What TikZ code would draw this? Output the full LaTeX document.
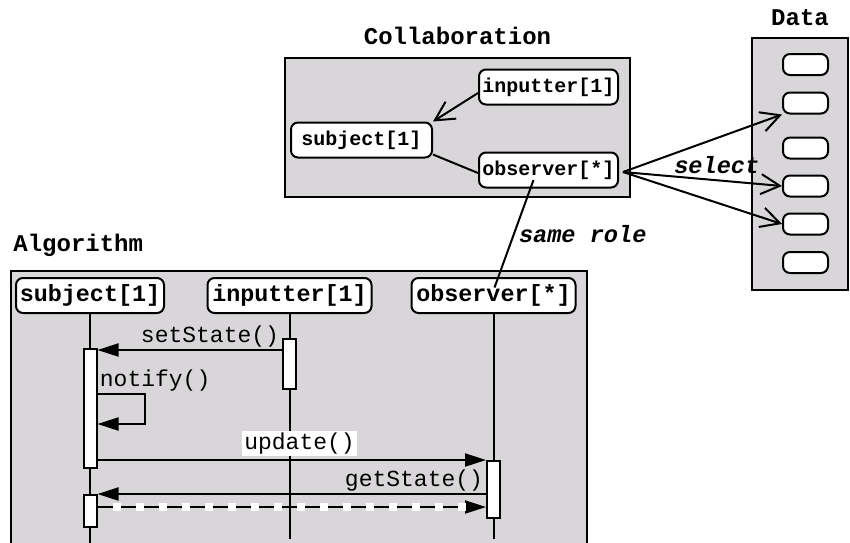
\documentclass[tikz,border=0pt]{standalone}
\usepackage{fontspec}
\usepackage{tikz}
\usetikzlibrary{arrows.meta,positioning}
\newfontfamily\codefont{Liberation Mono}
\definecolor{panelgray}{RGB}{216,214,217}

\tikzset{
  panel/.style={draw, fill=panelgray, line width=1pt, inner sep=0pt},
  title/.style={font=\codefont\bfseries\fontsize{12}{14}\selectfont, inner sep=0pt},
  role/.style={draw, fill=white, rounded corners=3.5pt, line width=1pt, inner sep=0pt,
    font=\codefont\bfseries\fontsize{10}{12}\selectfont, minimum width=69.5pt, minimum height=17.5pt},
  head/.style={role, font=\codefont\bfseries\fontsize{11.7}{14}\selectfont},
  slot/.style={draw, fill=white, rounded corners=3.5pt, line width=1pt, minimum width=22.5pt,
    minimum height=10.5pt, inner sep=0pt},
  bar/.style={draw, fill=white, line width=1pt, minimum width=6.5pt, inner sep=0pt},
  lifeline/.style={line width=1pt},
  msg/.style={line width=1pt, -{Triangle[length=10.5pt,width=6.5pt]}},
  gap/.style={white, line width=4pt, dash pattern=on 4pt off 7.5pt, shorten <=7.5pt, shorten >=8.5pt},
  call/.style={font=\codefont\fontsize{11.5}{13}\selectfont, inner sep=1pt},
  link/.style={line width=1pt},
  nav/.style={line width=1pt, -{Straight Barb[length=9.5pt,width=10pt]}},
  note/.style={font=\codefont\bfseries\itshape\fontsize{11.8}{14}\selectfont, inner sep=1pt}
}

\begin{document}
\begin{tikzpicture}[x=0.5pt, y=-0.5pt]
  \useasboundingbox (0,0) rectangle (850,542);
  % panels
  \node[panel, minimum width=172.5pt, minimum height=69.5pt] (collab) at (457.5,127.5) {};
  \node[panel, minimum width=48pt, minimum height=126pt] (data) at (800,164) {};
  \node[panel, minimum width=288pt, minimum height=137.5pt, anchor=north west] (alg) at (10,270) {};
  \node[title, above=6pt of collab.north] (collabtitle) {Collaboration};
  \node[title, above=5.5pt of data.north] (datatitle) {Data};
  \node[title, above right=6.5pt and 1.5pt of alg.north west] (algtitle) {Algorithm};

  % collaboration
  \node[role] (cinput) at (548.5,87) {inputter[1]};
  \node[role, minimum width=70.5pt] (csubj) at (361.5,140) {subject[1]};
  \node[role] (cobs) at (548.5,170) {observer[*]};
  \draw[nav] ([yshift=-3pt]cinput.west) -- (csubj.north east);
  \draw[link] ([yshift=2pt]csubj.south east) -- ([yshift=-1.5pt]cobs.west);

  % data
  \foreach \i/\y in {1/64.5,2/103,3/148,4/186,5/224,6/262.5}
    \node[slot] (d\i) at (805.5,\y) {};
  \draw[nav] ([shift={(2pt,-1pt)}]cobs.east) -- (d2.south west);
  \draw[nav] ([shift={(2pt,-1pt)}]cobs.east) -- node[note, pos=0.59, above=2pt] (sel) {select} (d4.west);
  \draw[nav] ([shift={(2pt,-1pt)}]cobs.east) -- (d5.west);

  % algorithm
  \node[head, minimum width=74pt] (asubj) at (90,295.5) {subject[1]};
  \node[head, minimum width=82pt] (ainput) at (289.5,295.5) {inputter[1]};
  \node[head, minimum width=82pt] (aobs) at (493.5,295.5) {observer[*]};
  \draw[link] ([shift={(-7.5pt,-5pt)}]cobs.center) -- node[note, right=1pt] (same) {same role}
    ([shift={(0.5pt,4pt)}]aobs.center);

  \draw[lifeline] (asubj.south) -- ++(0,229);
  \draw[lifeline] (ainput.south) -- ++(0,225);
  \draw[lifeline] (aobs.south) -- ++(0,225);

  \node[bar, minimum height=25pt] (bin) at (ainput.south |- 0,364) {};
  \node[bar, minimum height=59.5pt] (bs1) at (asubj.south |- 0,408.5) {};
  \node[bar, minimum height=16pt] (bs2) at (asubj.south |- 0,511) {};
  \node[bar, minimum height=28.5pt] (bo) at (aobs.south |- 0,489.5) {};

  \draw[msg] (bin.west |- 0,350) -- node[call, pos=0, above left] (set) {setState()} (bs1.east |- 0,350);
  \coordinate (n1) at (bs1.east |- 0,394);
  \draw[msg] (n1) -- ++(47,0) -- ++(0,30) -- ++(-47,0);
  \node[call, above right] (notify) at (n1) {notify()};
  \draw[msg] (bs1.east |- bo.north) -- node[call, pos=0.52, above=1.5pt, fill=white] (upd) {update()} (bo.north west);
  \draw[msg] (bo.west |- 0,494) -- node[call, pos=0, above left] (get) {getState()} (bs2.east |- 0,494);
  \draw[msg] (bs2.east |- 0,507) -- (bo.west |- 0,507);
  \draw[gap] (bs2.east |- 0,507) -- (bo.west |- 0,507);
\end{tikzpicture}
\end{document}
